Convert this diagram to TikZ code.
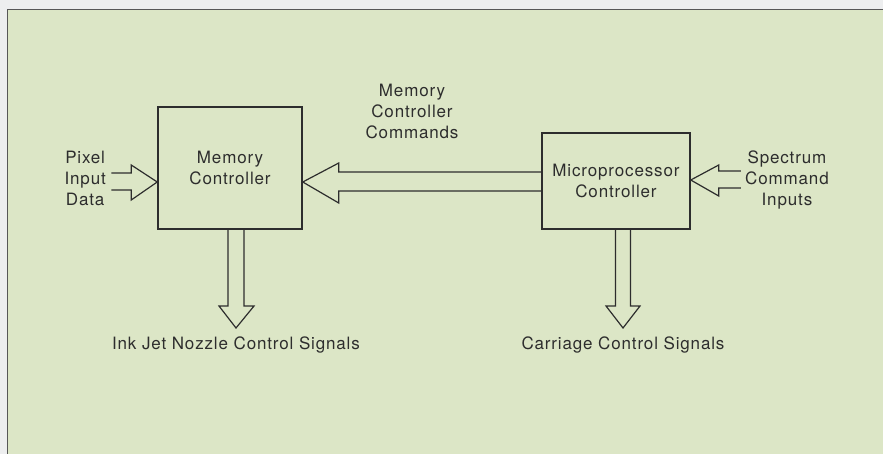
\documentclass[tikz,border=0pt]{standalone}
\usepackage{fontspec}
\setmainfont{TeX Gyre Heros}
\newfontfamily\lblfont[LetterSpace=5]{TeX Gyre Heros}
\usetikzlibrary{calc}
\definecolor{paper}{RGB}{220,230,198}
\definecolor{outside}{RGB}{237,238,239}
\definecolor{ink}{RGB}{45,45,45}
\tikzset{
  txt/.style={font=\lblfont\fontsize{17}{21}\selectfont},
  box/.style={draw=ink, line width=1.5pt, fill=none, inner sep=0pt, align=center, text=ink, txt},
  lbl/.style={align=center, text=ink, inner sep=0pt, txt},
  hollow/.style={draw=ink, line width=1.2pt, line join=miter},
}
\begin{document}
\begin{tikzpicture}[x=1pt,y=-1pt]
\useasboundingbox (0,0) rectangle (883,454);
\fill[outside] (0,0) rectangle (883,454);
\filldraw[fill=paper, draw=ink!80, line width=1.3pt] (7.5,9.5) rectangle (895,470);

\node[box, minimum width=144pt, minimum height=122pt] (mem) at (230,168) {Memory\\Controller};
\node[box, minimum width=148pt, minimum height=96pt] (mic) at (616,181) {Microprocessor\\Controller};

\node[lbl, anchor=east] (pix) at (106,178) {Pixel\\Input\\Data};
\node[lbl] (cmd) at (412,111) {Memory\\Controller\\Commands};
\node[lbl, anchor=west] (spec) at (745,180) {Spectrum\\Command\\Inputs};
\node[lbl] (ink) at (236,345) {Ink Jet Nozzle Control Signals};
\node[lbl] (car) at (623,345) {Carriage Control Signals};

% tips of the hollow arrows
\coordinate (tPix) at (mem.west |- 0,182);
\coordinate (tCmd) at (mem.east |- 0,182);
\coordinate (tSpec) at (mic.east |- 0,180);
\coordinate (tInk) at (236,328);
\coordinate (tCar) at (623,328);

% Pixel Input Data -> Memory Controller
\draw[hollow] ([shift={(-46,-9)}]tPix) -- ([shift={(-26,-9)}]tPix) -- ([shift={(-26,-17)}]tPix)
  -- (tPix) -- ([shift={(-26,18)}]tPix) -- ([shift={(-26,8)}]tPix) -- ([shift={(-46,8)}]tPix);

% Microprocessor Controller -> Memory Controller
\draw[hollow] (mic.west |- 0,172) -- ([shift={(36,-10)}]tCmd) -- ([shift={(36,-19)}]tCmd)
  -- (tCmd) -- ([shift={(36,21)}]tCmd) -- ([shift={(36,9)}]tCmd) -- (mic.west |- 0,191);

% Spectrum Command Inputs -> Microprocessor Controller
\draw[hollow] ([shift={(50,-9)}]tSpec) -- ([shift={(28,-9)}]tSpec) -- ([shift={(28,-15)}]tSpec)
  -- (tSpec) -- ([shift={(28,16)}]tSpec) -- ([shift={(28,8)}]tSpec) -- ([shift={(50,8)}]tSpec);

% Memory Controller -> Ink Jet Nozzle Control Signals
\draw[hollow] (mem.south -| 228,0) -- ([shift={(-8,-22)}]tInk) -- ([shift={(-17,-22)}]tInk)
  -- (tInk) -- ([shift={(18,-22)}]tInk) -- ([shift={(8,-22)}]tInk) -- (mem.south -| 244,0);

% Microprocessor Controller -> Carriage Control Signals
\draw[hollow] (mic.south -| 615.5,0) -- ([shift={(-7.5,-22)}]tCar) -- ([shift={(-17,-22)}]tCar)
  -- (tCar) -- ([shift={(17,-22)}]tCar) -- ([shift={(7.5,-22)}]tCar) -- (mic.south -| 630.5,0);
\end{tikzpicture}
\end{document}
